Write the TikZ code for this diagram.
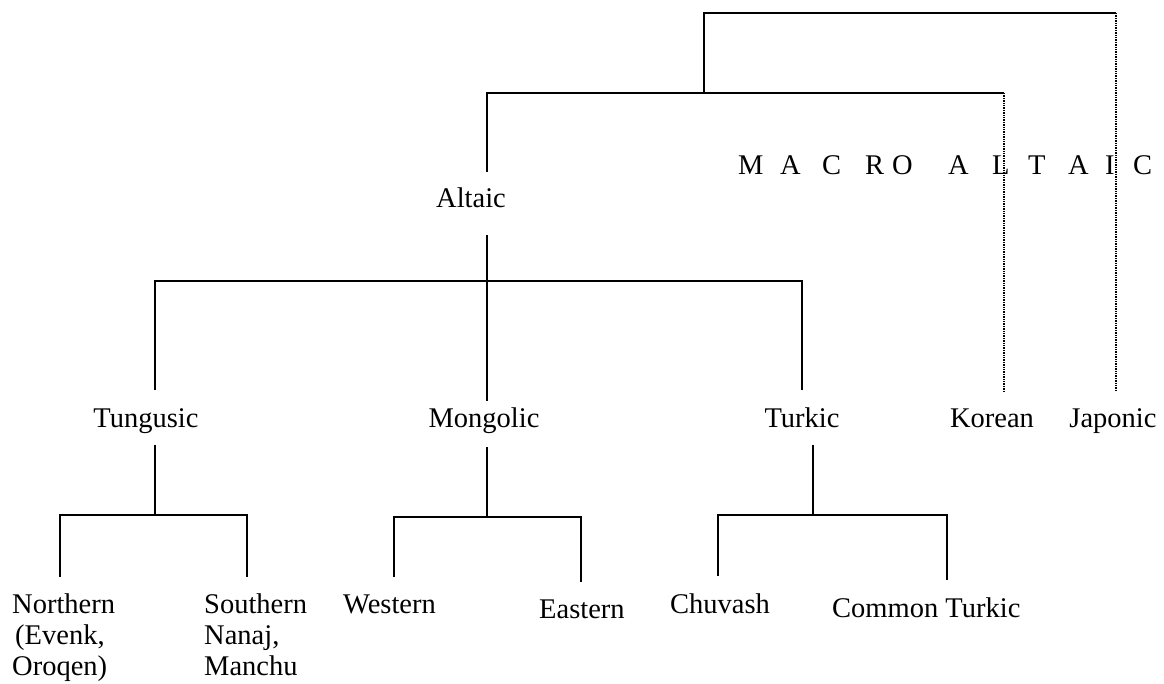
\documentclass[tikz,border=0pt]{standalone}
\usepackage{fontspec}
\setmainfont{Liberation Serif}
\newcommand\spl[2]{\makebox[#1][l]{#2}}
\begin{document}
\begin{tikzpicture}[x=1pt,y=-1pt,
  lbl/.style={inner sep=0pt, font=\fontsize{28.5}{31}\selectfont},
  link/.style={line width=1.6pt},
  dotlink/.style={line width=2.2pt, dash pattern=on 1.4pt off 1pt}]
\useasboundingbox (0,0) rectangle (1164,684);
% labels
\node[lbl,anchor=base] (altaic) at (471,208) {Altaic};
\node[lbl,anchor=base west] (macro) at (738,175) {\spl{42pt}{M}\spl{42pt}{A}\spl{43pt}{C}\spl{27pt}{R}\spl{56pt}{O}\spl{44pt}{A}\spl{36pt}{L}\spl{40pt}{T}\spl{37pt}{A}\spl{28pt}{I}C};
\node[lbl,anchor=base] (tung) at (146,427) {Tungusic};
\node[lbl,anchor=base] (mong) at (484,427) {Mongolic};
\node[lbl,anchor=base] (turk) at (802,427) {Turkic};
\node[lbl,anchor=base] (kor) at (992,427) {Korean};
\node[lbl,anchor=base] (jap) at (1113,427) {Japonic};
\node[lbl,anchor=base west,align=left] (north) at (12,675) {Northern\\\hspace*{3pt}(Evenk,\\Oroqen)};
\node[lbl,anchor=base west,align=left] (south) at (204,675) {Southern\\Nanaj,\\Manchu};
\node[lbl,anchor=base west] (west) at (343,613) {Western};
\node[lbl,anchor=base west] (east) at (539,618) {Eastern};
\node[lbl,anchor=base west] (chuv) at (670,613) {Chuvash};
\node[lbl,anchor=base west] (comm) at (832,617) {Common Turkic};
% upper brackets
\coordinate (t0) at (704,93);
\coordinate (t1) at (704,13);
\coordinate (t2) at (1116,13);
\coordinate (ja0) at (1116,392);
\coordinate (m1) at (487,93);
\coordinate (m2) at (1004,93);
\coordinate (ko0) at (1004,392);
\coordinate (a0) at (487,172);
\coordinate (a1) at (487,235);
\coordinate (b1) at (155,281);
\coordinate (b2) at (802,281);
\coordinate (tu0) at (155,390);
\coordinate (mo0) at (487,401);
\coordinate (tk0) at (802,390);
\draw[link] (t0) -- (t1) -- (t2);
\draw[dotlink] (t2) -- (ja0);
\draw[link] (a0) -- (m1) -- (m2);
\draw[dotlink] (m2) -- (ko0);
\draw[link] (a1) -- (mo0);
\draw[link] (tu0) -- (b1) -- (b2) -- (tk0);
% Tungusic subtree
\coordinate (tu1) at (155,445);
\coordinate (tu2) at (155,515);
\coordinate (tuL) at (60,515);
\coordinate (tuR) at (247,515);
\coordinate (tuLb) at (60,577);
\coordinate (tuRb) at (247,577);
\draw[link] (tu1) -- (tu2);
\draw[link] (tuLb) -- (tuL) -- (tuR) -- (tuRb);
% Mongolic subtree
\coordinate (mo1) at (487,447);
\coordinate (mo2) at (487,517);
\coordinate (moL) at (394,517);
\coordinate (moR) at (581,517);
\coordinate (moLb) at (394,577);
\coordinate (moRb) at (581,582);
\draw[link] (mo1) -- (mo2);
\draw[link] (moLb) -- (moL) -- (moR) -- (moRb);
% Turkic subtree
\coordinate (tk1) at (813,445);
\coordinate (tk2) at (813,515);
\coordinate (tkL) at (718,515);
\coordinate (tkR) at (947,515);
\coordinate (tkLb) at (718,576);
\coordinate (tkRb) at (947,580);
\draw[link] (tk1) -- (tk2);
\draw[link] (tkLb) -- (tkL) -- (tkR) -- (tkRb);
\end{tikzpicture}
\end{document}
